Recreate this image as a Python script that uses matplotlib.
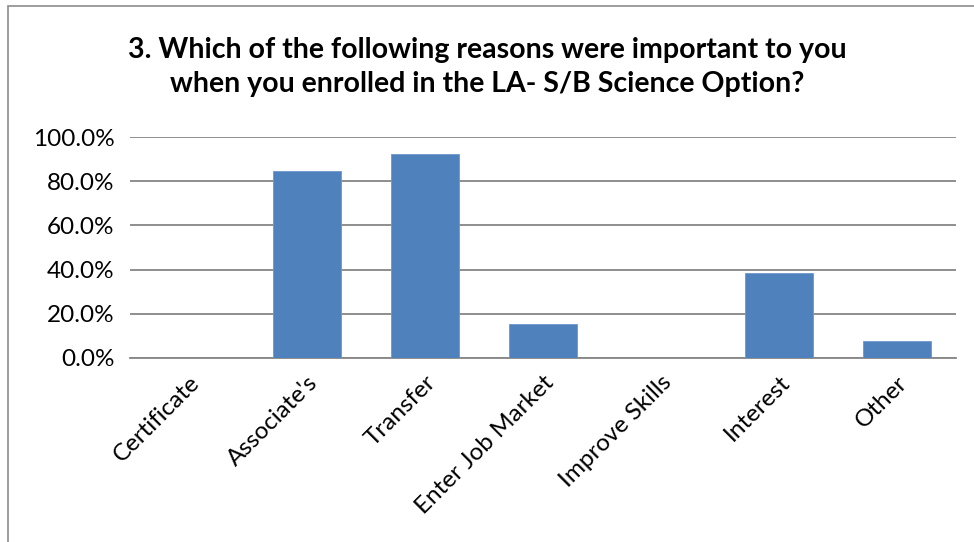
import numpy as np
import matplotlib.pyplot as plt
from matplotlib.ticker import PercentFormatter
from matplotlib.patches import Rectangle

categories = ["Certificate", "Associate's", "Transfer", "Enter Job Market",
              "Improve Skills", "Interest", "Other"]
percent = [0.0, 84.6, 92.3, 15.4, 0.0, 38.5, 7.7]
yticks = [0, 20, 40, 60, 80, 100]

title = ("3. Which of the following reasons were important to you\n"
         "when you enrolled in the LA- S/B Science Option?")

plt.rcParams["font.family"] = ["Lato", "DejaVu Sans"]

fig = plt.figure(figsize=(9.74, 5.42), dpi=100)
ax = fig.add_axes([130 / 974, 1 - 358 / 542, 826 / 974, 221 / 542])

x = np.arange(len(categories))
ax.bar(x, percent, width=0.57, color="#4F81BD", edgecolor="#6d97cc", linewidth=0.6, zorder=3)

ax.set_xlim(-0.5, len(categories) - 0.5)
ax.set_ylim(0, 100)
ax.set_yticks(yticks)
ax.yaxis.set_major_formatter(PercentFormatter(decimals=1))
ax.grid(axis="y", color="#868686", linewidth=1.3, zorder=0)
ax.set_axisbelow(True)

for side in ["top", "right", "left"]:
    ax.spines[side].set_visible(False)
ax.spines["bottom"].set_color("#868686")
ax.spines["bottom"].set_linewidth(1.3)

ax.tick_params(axis="both", length=0, labelsize=17.5, colors="black")
ax.tick_params(axis="y", pad=11)
ax.set_xticks(x)
ax.set_xticklabels(categories, rotation=45, ha="right", va="top",
                   rotation_mode="anchor")
ax.tick_params(axis="x", pad=10)

fig.text(0.5, 1 - 67 / 542, title, ha="center", va="center",
         fontsize=20.5, fontweight="bold", linespacing=1.4)

# chart frame
fig.patches.append(Rectangle((8 / 974, -0.1), 1.2, 1 - 6 / 542 + 0.1,
                             transform=fig.transFigure, fill=False,
                             edgecolor="#8c8c8c", linewidth=1.2))

fig.savefig("out.png", dpi=100)
